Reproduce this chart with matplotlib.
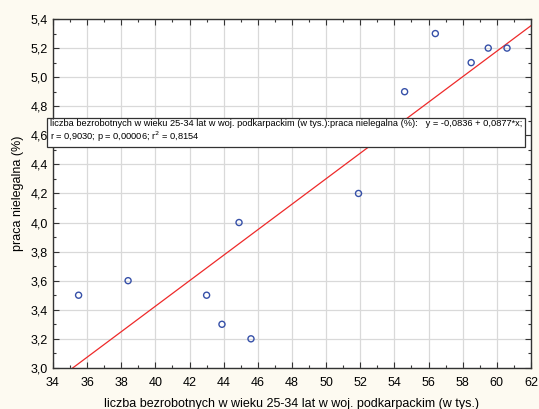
import matplotlib
matplotlib.use("Agg")
import matplotlib.pyplot as plt
from matplotlib.ticker import MultipleLocator, FuncFormatter
import numpy as np

plt.rcParams['font.family'] = ['Liberation Sans', 'DejaVu Sans']

x_vals = [35.5, 38.4, 43.0, 43.9, 44.9, 45.6, 51.9, 54.6, 56.4, 58.5, 59.5, 60.6]
y_vals = [3.5, 3.6, 3.5, 3.3, 4.0, 3.2, 4.2, 4.9, 5.3, 5.1, 5.2, 5.2]
intercept = -0.0836
slope = 0.0877
x_label = "liczba bezrobotnych w wieku 25-34 lat w woj. podkarpackim (w tys.)"
y_label = "praca nielegalna (%)"
note_line1 = "liczba bezrobotnych w wieku 25-34 lat w woj. podkarpackim (w tys.):praca nielegalna (%):   y = -0,0836 + 0,0877*x;"
note_line2 = "r = 0,9030; p = 0,00006; r$^2$ = 0,8154"

bg = '#FDFAF1'
fig = plt.figure(figsize=(5.39, 4.09), dpi=100, facecolor=bg)
ax = fig.add_axes([0.0983, 0.1005, 0.8867, 0.853])
ax.set_facecolor('white')

ax.set_xlim(34, 62)
ax.set_ylim(3.0, 5.4)
ax.xaxis.set_major_locator(MultipleLocator(2))
ax.xaxis.set_minor_locator(MultipleLocator(1))
ax.yaxis.set_major_locator(MultipleLocator(0.2))
ax.yaxis.set_minor_locator(MultipleLocator(0.1))
ax.xaxis.set_major_formatter(FuncFormatter(lambda v, p: f"{v:.0f}"))
ax.yaxis.set_major_formatter(FuncFormatter(lambda v, p: f"{v:.1f}".replace('.', ',')))
ax.grid(True, which='major', color='#d9d9d9', linewidth=0.9)
ax.set_axisbelow(True)
ax.tick_params(which='both', direction='in', top=True, right=True, colors='#333333',
               labelcolor='black', labelsize=9)
ax.tick_params(which='major', length=4, width=0.8)
ax.tick_params(which='minor', length=2.5, width=0.8)
ax.tick_params(axis='x', which='major', pad=6.3)
for s in ax.spines.values():
    s.set_color('#333333')
    s.set_linewidth(1.0)

xs = np.array(ax.get_xlim())
ax.plot(xs, intercept + slope * xs, color='#ee2a2a', linewidth=0.9, zorder=2)
ax.scatter(x_vals, y_vals, s=19, facecolors='none', edgecolors='#3650a8', linewidths=1.0, zorder=3)

ax.set_xlabel(x_label, fontsize=9, labelpad=6.5)
ax.set_ylabel(y_label, fontsize=9, labelpad=5)

ax.text(-0.006, 0.678, note_line1 + "\n" + note_line2, transform=ax.transAxes,
        fontsize=6.65, va='center', ha='left', linespacing=1.2, zorder=5,
        bbox=dict(boxstyle='square,pad=0.32', facecolor='white', edgecolor='#333333', linewidth=0.9))

fig.savefig('out.png', dpi=100, facecolor=bg)
